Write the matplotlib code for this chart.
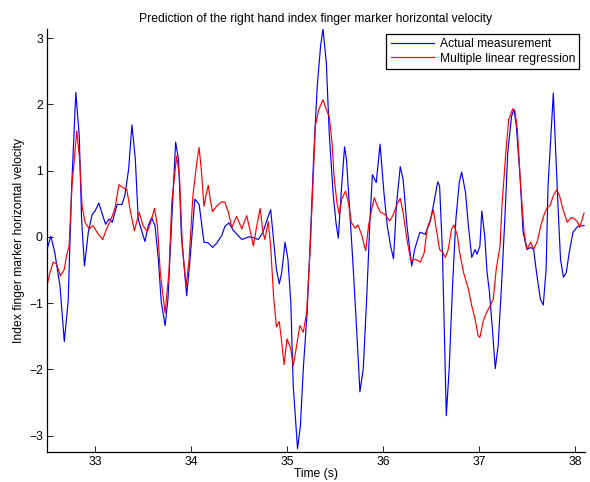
import numpy as np
import matplotlib
matplotlib.use("Agg")
import matplotlib.pyplot as plt

# valores: tiempo (s) y velocidad
t_actual = [32.50, 32.54, 32.58, 32.635, 32.68, 32.72, 32.757, 32.80, 32.836, 32.86,
            32.89, 32.93, 32.97, 33.00, 33.04, 33.07, 33.11, 33.146, 33.18, 33.23,
            33.28, 33.31, 33.35, 33.385, 33.42, 33.45, 33.49, 33.52, 33.555, 33.59,
            33.625, 33.66, 33.69, 33.73, 33.76, 33.80, 33.84, 33.87, 33.90, 33.955,
            33.99, 34.04, 34.085, 34.135, 34.18, 34.225, 34.27, 34.32, 34.354, 34.396,
            34.44, 34.53, 34.60, 34.65, 34.70, 34.75, 34.80, 34.83, 34.86, 34.89,
            34.92, 34.945, 34.98, 35.01, 35.04, 35.065, 35.11, 35.14, 35.17, 35.21,
            35.245, 35.28, 35.315, 35.35, 35.375, 35.41, 35.44, 35.48, 35.51, 35.535,
            35.565, 35.60, 35.62, 35.65, 35.685, 35.72, 35.76, 35.795, 35.83, 35.865,
            35.89, 35.93, 35.97, 36.01, 36.045, 36.08, 36.11, 36.14, 36.18, 36.21,
            36.25, 36.30, 36.33, 36.385, 36.44, 36.49, 36.525, 36.57, 36.59, 36.62,
            36.64, 36.66, 36.69, 36.725, 36.76, 36.795, 36.82, 36.86, 36.89, 36.925,
            36.96, 36.98, 37.01, 37.03, 37.06, 37.085, 37.11, 37.14, 37.17, 37.20,
            37.235, 37.27, 37.30, 37.34, 37.365, 37.39, 37.43, 37.46, 37.50, 37.54,
            37.57, 37.60, 37.64, 37.67, 37.70, 37.72, 37.75, 37.775, 37.80, 37.83,
            37.85, 37.88, 37.91, 37.94, 37.98, 38.03, 38.095]
v_actual = [-0.19, 0.01, -0.23, -0.74, -1.58, -0.98, 0.77, 2.18, 1.52, 0.27,
            -0.44, 0.07, 0.34, 0.39, 0.51, 0.37, 0.19, 0.27, 0.22, 0.49,
            0.49, 0.62, 1.02, 1.69, 1.17, 0.27, 0.07, -0.07, 0.17, 0.29,
            0.17, -0.34, -0.98, -1.34, -0.94, 0.27, 1.43, 1.17, 0.02, -0.89,
            -0.34, 0.57, 0.49, -0.08, -0.09, -0.16, -0.09, 0.02, 0.16, 0.21,
            0.10, -0.04, 0.00, -0.01, -0.04, 0.07, 0.29, 0.41, -0.04, -0.49,
            -0.71, -0.54, -0.08, -0.34, -0.99, -2.24, -3.20, -2.85, -1.99, -1.14,
            0.02, 1.27, 2.27, 2.88, 3.14, 2.63, 1.57, 0.67, 0.22, -0.02,
            0.67, 1.36, 1.17, 0.47, -0.34, -1.24, -2.34, -1.99, -0.94, 0.27,
            0.94, 0.82, 1.40, 0.67, 0.17, -0.14, -0.33, 0.47, 1.06, 0.87,
            0.17, -0.44, -0.19, 0.07, 0.04, 0.22, 0.47, 0.83, 0.77, -0.23,
            -1.49, -2.70, -1.99, -0.74, 0.27, 0.82, 0.98, 0.67, 0.17, -0.31,
            -0.19, -0.26, -0.14, 0.39, 0.02, -0.54, -0.84, -1.39, -1.99, -1.64,
            -0.74, 0.27, 1.27, 1.82, 1.93, 1.67, 0.87, 0.07, -0.19, -0.16,
            -0.19, -0.54, -0.94, -1.03, -0.49, 0.77, 1.52, 2.17, 1.27, 0.27,
            -0.34, -0.61, -0.54, -0.24, 0.07, 0.16, 0.17]

t_mlr = [32.50, 32.53, 32.565, 32.60, 32.64, 32.68, 32.70, 32.73, 32.76, 32.81,
         32.84, 32.865, 32.896, 32.94, 32.98, 33.02, 33.08, 33.12, 33.16, 33.21,
         33.25, 33.295, 33.33, 33.365, 33.41, 33.46, 33.50, 33.545, 33.58, 33.62,
         33.65, 33.68, 33.73, 33.77, 33.80, 33.85, 33.88, 33.91, 33.95, 33.98,
         34.02, 34.06, 34.085, 34.11, 34.135, 34.155, 34.18, 34.20, 34.225, 34.27,
         34.32, 34.354, 34.39, 34.425, 34.475, 34.53, 34.58, 34.62, 34.65, 34.68,
         34.72, 34.75, 34.77, 34.805, 34.83, 34.86, 34.89, 34.92, 34.945, 34.97,
         35.00, 35.04, 35.065, 35.10, 35.135, 35.17, 35.205, 35.24, 35.27, 35.295,
         35.33, 35.375, 35.41, 35.44, 35.47, 35.49, 35.52, 35.545, 35.57, 35.61,
         35.64, 35.67, 35.71, 35.74, 35.78, 35.82, 35.85, 35.89, 35.91, 35.94,
         35.975, 36.02, 36.07, 36.11, 36.145, 36.18, 36.21, 36.25, 36.29, 36.34,
         36.39, 36.43, 36.46, 36.50, 36.525, 36.55, 36.59, 36.62, 36.65, 36.68,
         36.715, 36.74, 36.775, 36.80, 36.84, 36.89, 36.925, 36.96, 36.99, 37.01,
         37.045, 37.08, 37.11, 37.15, 37.18, 37.22, 37.24, 37.28, 37.31, 37.35,
         37.375, 37.40, 37.435, 37.47, 37.50, 37.54, 37.57, 37.61, 37.645, 37.68,
         37.71, 37.74, 37.775, 37.81, 37.84, 37.875, 37.92, 37.96, 37.99, 38.03,
         38.05, 38.095]
v_mlr = [-0.74, -0.54, -0.38, -0.41, -0.59, -0.49, -0.31, -0.14, 0.77, 1.60,
         1.17, 0.47, 0.22, 0.12, 0.17, 0.07, -0.04, 0.12, 0.24, 0.44,
         0.79, 0.74, 0.72, 0.42, 0.09, 0.37, 0.17, 0.08, 0.22, 0.43,
         0.17, -0.54, -1.15, -0.54, 0.52, 1.22, 0.92, -0.14, -0.74, -0.34,
         0.62, 1.12, 1.35, 0.97, 0.46, 0.62, 0.78, 0.57, 0.38, 0.47,
         0.53, 0.52, 0.37, 0.14, 0.31, 0.12, 0.32, 0.07, -0.14, 0.12,
         0.43, 0.07, -0.04, 0.23, -0.14, -0.89, -1.36, -1.28, -1.59, -1.93,
         -1.54, -1.69, -1.95, -1.64, -1.34, -1.44, -1.14, -0.23, 0.77, 1.67,
         1.92, 2.07, 1.92, 1.82, 1.42, 0.92, 0.52, 0.34, 0.57, 0.69,
         0.52, 0.22, 0.13, 0.18, 0.02, -0.21, 0.17, 0.47, 0.59, 0.47,
         0.37, 0.34, 0.24, 0.34, 0.49, 0.58, 0.37, -0.04, -0.36, -0.34,
         -0.38, -0.24, 0.12, 0.29, 0.41, 0.17, -0.19, -0.23, -0.31, -0.19,
         0.12, 0.18, 0.02, -0.24, -0.54, -0.79, -1.04, -1.24, -1.49, -1.52,
         -1.27, -1.14, -1.06, -0.94, -0.49, -0.14, 0.47, 1.27, 1.77, 1.93,
         1.90, 1.62, 0.77, 0.07, -0.19, -0.08, -0.19, -0.06, 0.17, 0.34,
         0.44, 0.47, 0.62, 0.71, 0.62, 0.42, 0.22, 0.29, 0.28, 0.22,
         0.14, 0.36]

fs = 8.7
plt.rcParams['font.family'] = ['Liberation Sans', 'DejaVu Sans']
plt.rcParams['font.size'] = fs

fig = plt.figure(figsize=(5.90, 4.82), dpi=100)
ax = fig.add_axes([0.0797, 0.062, 0.911, 0.878])

ax.plot(t_actual, v_actual, color="#0000ff", lw=0.85, label="Actual measurement")
ax.plot(t_mlr, v_mlr, color="#ff0000", lw=0.85, label="Multiple linear regression")

ax.set_xlim(32.5, 38.1)
ax.set_ylim(-3.25, 3.14)
ax.set_xticks([33, 34, 35, 36, 37, 38])
ax.set_yticks([-3, -2, -1, 0, 1, 2, 3])
ax.tick_params(direction="in", length=4, width=0.6, labelsize=fs, colors="k", pad=3)
ax.spines["top"].set_visible(False)
ax.spines["right"].set_visible(False)
ax.spines["left"].set_linewidth(0.9)
ax.spines["bottom"].set_linewidth(0.9)

ax.set_title("Prediction of the right hand index finger marker horizontal velocity", fontsize=fs, pad=5)
ax.set_xlabel("Time (s)", fontsize=fs, labelpad=0)
ax.set_ylabel("Index finger marker horizontal velocity", fontsize=fs, labelpad=3)

leg = ax.legend(loc="upper right", bbox_to_anchor=(0.99, 0.988), fancybox=False,
                edgecolor="k", framealpha=1, fontsize=fs, handlelength=3.6,
                borderpad=0.35, labelspacing=0.2, handletextpad=0.45, borderaxespad=0)
leg.get_frame().set_linewidth(0.9)

fig.savefig("out.png", dpi=100)
